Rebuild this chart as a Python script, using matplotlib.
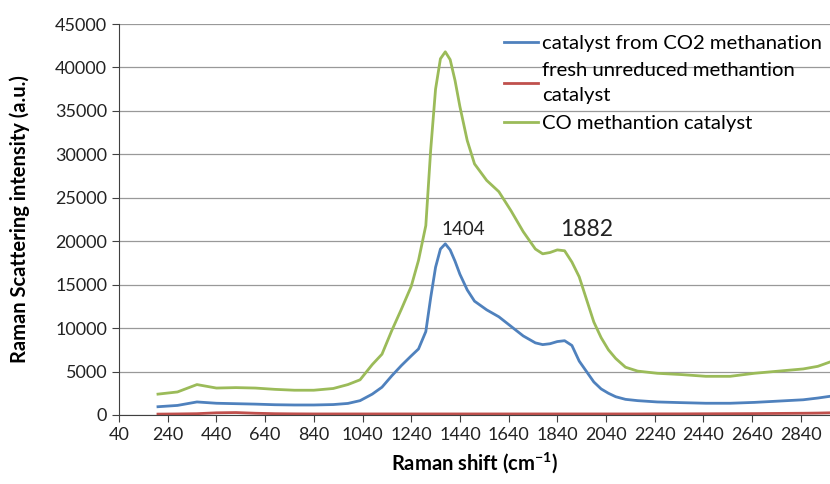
import matplotlib
matplotlib.use("Agg")
import matplotlib.pyplot as plt

plt.rcParams['font.family'] = ['Lato', 'DejaVu Sans']

# Raman shift (cm-1)
shift = [200, 280, 360, 440, 520, 600, 680, 760, 840, 920, 980, 1030, 1080,
         1120, 1160, 1200, 1240, 1270, 1300, 1320, 1340, 1360, 1380, 1400,
         1420, 1440, 1470, 1500, 1550, 1600, 1650, 1700, 1750, 1780, 1810,
         1840, 1870, 1900, 1930, 1960, 1990, 2020, 2050, 2080, 2120, 2170,
         2250, 2350, 2450, 2550, 2650, 2750, 2850, 2910, 2960]

co2_cat = [950, 1100, 1500, 1350, 1300, 1250, 1180, 1150, 1150, 1200, 1330,
           1650, 2400, 3200, 4500, 5700, 6800, 7600, 9600, 13500, 17000,
           19100, 19700, 19000, 17700, 16200, 14400, 13100, 12100, 11300,
           10200, 9100, 8300, 8100, 8200, 8450, 8550, 8000, 6200, 5000,
           3800, 3000, 2500, 2100, 1800, 1650, 1500, 1420, 1350, 1350, 1450,
           1600, 1750, 1950, 2150]

fresh_cat = [100, 120, 150, 250, 280, 200, 150, 130, 120, 120, 120, 120, 120,
             120, 120, 120, 120, 120, 120, 120, 120, 120, 120, 120, 120, 120,
             120, 120, 120, 120, 120, 120, 120, 120, 120, 120, 120, 120, 120,
             120, 120, 120, 120, 120, 120, 120, 130, 130, 140, 150, 160, 180,
             200, 220, 250]

co_cat = [2400, 2650, 3500, 3100, 3150, 3100, 2950, 2850, 2850, 3050, 3500,
          4050, 5800, 7000, 9700, 12200, 14800, 17800, 21800, 30500, 37500,
          41000, 41800, 40900, 38500, 35500, 31600, 28900, 27000, 25700,
          23500, 21100, 19100, 18550, 18700, 19000, 18900, 17600, 15900,
          13300, 10700, 8900, 7500, 6500, 5500, 5050, 4800, 4650, 4450, 4450,
          4800, 5050, 5300, 5600, 6100]

xticks = list(range(40, 3000, 200))

fig = plt.figure(figsize=(8.3, 4.84), dpi=100)
ax = fig.add_axes([0.1434, 0.1426, 0.8566, 0.8078])

ax.plot(shift, co2_cat, color='#4F81BD', lw=2.0, label='catalyst from CO2 methanation')
ax.plot(shift, fresh_cat, color='#C0504D', lw=2.0, label='fresh unreduced methantion\ncatalyst')
ax.plot(shift, co_cat, color='#9BBB59', lw=2.0, label='CO methantion catalyst')

ax.set_xlim(40, 2960)
ax.set_ylim(0, 45000)
ax.set_xticks(xticks)
ax.set_yticks(range(0, 45001, 5000))
ax.yaxis.grid(True, color='#999999', lw=0.9)
ax.set_axisbelow(True)
ax.tick_params(labelsize=13, colors='#404040', length=5, direction='out')
ax.tick_params(axis='both', labelcolor='#222222')
for s in ['top', 'right']:
    ax.spines[s].set_visible(False)
for s in ['left', 'bottom']:
    ax.spines[s].set_color('#404040')

ax.set_xlabel('Raman shift (cm$^{\\mathregular{-1}}$)', fontsize=14.5, fontweight='bold', labelpad=5)
ax.set_ylabel('Raman Scattering intensity (a.u.)', fontsize=14.5, fontweight='bold', labelpad=18)

ax.text(1453, 21400, '1404', fontsize=13.5, ha='center', va='center', color='#222222')
ax.text(1962, 21300, '1882', fontsize=16.5, ha='center', va='center', color='#222222')

leg = ax.legend(loc='upper left', bbox_to_anchor=(0.541, 0.973), frameon=False,
                fontsize=14.6, handlelength=1.7, handletextpad=0.2, labelspacing=0.5,
                borderaxespad=0, borderpad=0)
leg.get_texts()[1].set_linespacing(1.6)

fig.savefig('out.png', dpi=100)
